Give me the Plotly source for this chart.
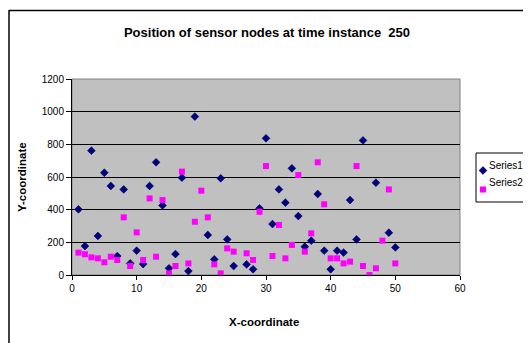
import plotly.graph_objects as go

# ---- data ----
s1_x = [1, 2, 3, 4, 5, 6, 7, 8, 9, 10, 11, 12, 13, 14, 15, 16, 17, 18, 19, 21, 22, 23, 24, 25,
        27, 28, 29, 30, 31, 32, 33, 34, 35, 36, 37, 38, 39, 40, 41, 42, 43, 44, 45, 47, 49, 50]
s1_y = [402, 177, 761, 239, 626, 545, 116, 524, 71, 149, 67, 545, 690, 426, 41, 128, 596, 24, 970,
        245, 96, 592, 218, 55, 65, 35, 408, 837, 312, 524, 443, 653, 361, 173, 210, 496, 149, 35,
        149, 137, 459, 218, 824, 565, 259, 169]

s2_x = [1, 2, 3, 4, 5, 6, 7, 8, 9, 10, 11, 12, 13, 14, 15, 16, 17, 18, 19, 20, 21, 22, 23, 24, 25,
        27, 28, 29, 30, 31, 32, 33, 34, 35, 36, 37, 38, 39, 40, 41, 42, 43, 44, 45, 46, 47, 48, 49, 50]
s2_y = [137, 127, 108, 102, 78, 112, 92, 353, 55, 261, 92, 469, 112, 459, 10, 55, 633, 71, 326, 516,
        353, 65, 10, 163, 143, 133, 92, 387, 667, 116, 306, 102, 184, 612, 143, 255, 690, 433, 102,
        102, 71, 82, 667, 55, 0, 41, 210, 524, 71]

series_names = ["Series1", "Series2"]
x_ticks = [0, 10, 20, 30, 40, 50, 60]
y_ticks = [0, 200, 400, 600, 800, 1000, 1200]
title_text = "Position of sensor nodes at time instance  250"
x_title = "X-coordinate"
y_title = "Y-coordinate"

FONT = "Liberation Sans, Arial, sans-serif"
OFF = 8  # page body margin
W, H = 531 - OFF, 343 - OFF
# plot area in window pixels: x 72..460, y 79..275
PL, PR, PT, PB = 72, 460, 79, 275
L, T = PL - OFF, PT - OFF
R, B = W - (PR - OFF), H - (PB - OFF)
PW, PH = PR - PL, PB - PT


def px(xp):
    return (xp - PL) / PW


def py(yp):
    return (PB - yp) / PH


fig = go.Figure()
fig.add_trace(go.Scatter(x=s1_x, y=s1_y, mode="markers", name="",
                         marker=dict(symbol="diamond", size=6, color="#000080",
                                     line=dict(width=0.6, color="#000060"))))
fig.add_trace(go.Scatter(x=s2_x, y=s2_y, mode="markers", name="",
                         marker=dict(symbol="square", size=6, color="#FF00FF",
                                     line=dict(width=0))))

shapes = [
    # chart area border: left edge
    dict(type="line", xref="paper", yref="paper", x0=px(9), x1=px(9), y0=py(343), y1=py(10),
         line=dict(color="#000000", width=1.5), layer="above"),
    # chart area border: top edge
    dict(type="line", xref="paper", yref="paper", x0=px(9), x1=px(531), y0=py(10.5), y1=py(10.5),
         line=dict(color="#000000", width=1.5), layer="above"),
    # plot area border
    dict(type="rect", xref="paper", yref="paper", x0=0, x1=1, y0=0, y1=1,
         line=dict(color="#808080", width=1), fillcolor="rgba(0,0,0,0)", layer="below"),
    # legend box
    dict(type="rect", xref="paper", yref="paper", x0=px(476), x1=px(545), y0=py(202), y1=py(153),
         line=dict(color="#000000", width=1), fillcolor="#FFFFFF", layer="below"),
]

annotations = [
    dict(text="<b>" + x_title + "</b>", xref="paper", yref="paper", x=px(264), y=py(322),
         showarrow=False, font=dict(family=FONT, size=11.5, color="#000000"),
         xanchor="center", yanchor="middle"),
    dict(text="<b>" + y_title + "</b>", xref="paper", yref="paper", x=px(22), y=0.5,
         showarrow=False, textangle=-90, font=dict(family=FONT, size=11.5, color="#000000"),
         xanchor="center", yanchor="middle"),
    dict(text=series_names[0], xref="paper", yref="paper", x=px(487), y=py(165), showarrow=False,
         font=dict(family=FONT, size=10, color="#000000"), xanchor="left", yanchor="middle"),
    dict(text=series_names[1], xref="paper", yref="paper", x=px(487), y=py(182), showarrow=False,
         font=dict(family=FONT, size=10, color="#000000"), xanchor="left", yanchor="middle"),
]

fig.update_layout(
    width=W, height=H,
    margin=dict(l=L, r=R, t=T, b=B, pad=0),
    paper_bgcolor="#FFFFFF",
    plot_bgcolor="#C0C0C0",
    title=dict(text="<b>" + title_text + "</b>", x=(267 - OFF) / W, xanchor="center",
               y=1 - (32 - OFF) / H, yanchor="middle",
               font=dict(family=FONT, size=13, color="#000000")),
    showlegend=True,
    legend=dict(x=px(463), y=py(156), xanchor="left", yanchor="top",
                bgcolor="rgba(0,0,0,0)", borderwidth=0, tracegroupgap=0,
                font=dict(family=FONT, size=10)),
    shapes=shapes,
    annotations=annotations,
    xaxis=dict(range=[0, 60], tickvals=x_ticks, ticktext=[str(v) for v in x_ticks],
               showgrid=False, zeroline=False, showline=True, linecolor="#000000", linewidth=1,
               ticks="outside", ticklen=4, tickcolor="#000000",
               tickfont=dict(family=FONT, size=10, color="#000000")),
    yaxis=dict(range=[0, 1200], tickvals=y_ticks, ticktext=[str(v) for v in y_ticks],
               showgrid=True, gridcolor="#000000", gridwidth=1, zeroline=False,
               showline=True, linecolor="#000000", linewidth=1,
               ticks="outside", ticklen=5, tickcolor="#000000",
               tickfont=dict(family=FONT, size=10, color="#000000")),
)

fig.write_html("out.html")
